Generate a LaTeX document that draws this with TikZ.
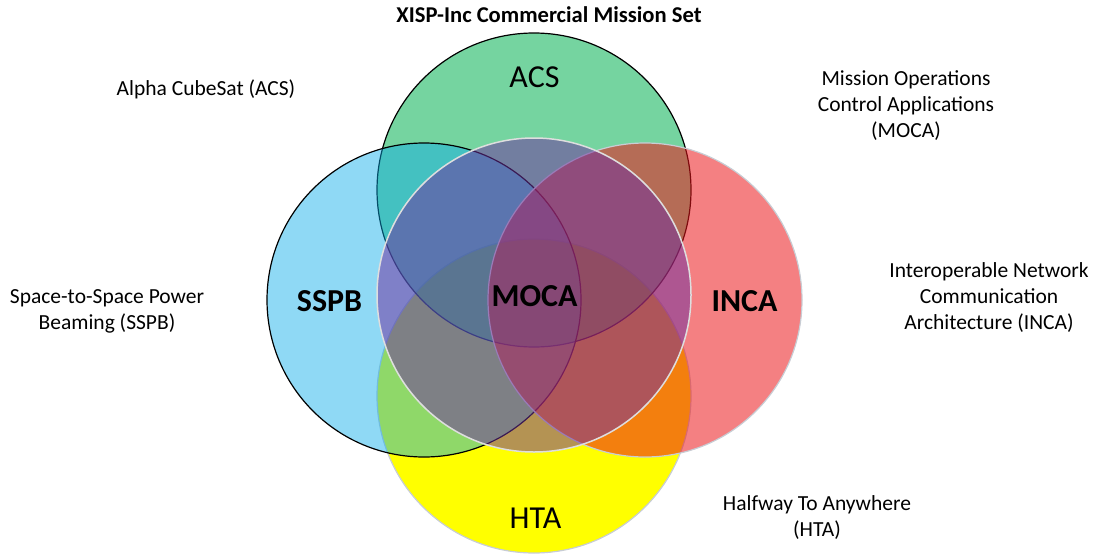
\documentclass[tikz,border=0pt]{standalone}
\usepackage{fontspec}
\setmainfont{Carlito}
\begin{document}
\begin{tikzpicture}[x=1pt,y=-1pt]
\definecolor{acsgreen}{RGB}{0,176,80}
\definecolor{sspbblue}{RGB}{9,171,233}
\definecolor{incared}{RGB}{234,22,26}
\definecolor{mocapurple}{RGB}{112,48,160}
\definecolor{htayellow}{RGB}{255,255,0}
\definecolor{lightedge}{RGB}{200,205,212}
\definecolor{mocaedge}{RGB}{222,222,222}
\tikzset{
  venn/.style={circle, minimum size=314pt, inner sep=0pt, outer sep=0pt, line width=1.2pt},
  biglabel/.style={font=\fontsize{32}{36}\selectfont, inner sep=0pt},
  boldlabel/.style={font=\fontsize{32}{36}\selectfont\bfseries, inner sep=0pt},
  sidelabel/.style={font=\fontsize{21.5}{26}\selectfont, align=center, inner sep=0pt},
  titlelabel/.style={font=\fontsize{22.6}{27}\selectfont\bfseries, inner sep=0pt}
}
\useasboundingbox (0,0) rectangle (1097,554);
% circles, back to front
\node[venn, fill=htayellow, draw=lightedge] (hta) at (534,396) {};
\node[venn, fill=acsgreen, fill opacity=0.54, draw=black, draw opacity=1] (acs) at (534,190) {};
\node[venn, fill=sspbblue, fill opacity=0.455, draw=black, draw opacity=1] (sspb) at (424,300) {};
\node[venn, fill=incared, fill opacity=0.545, draw=lightedge, draw opacity=1] (inca) at (645,300) {};
\node[venn, fill=mocapurple, fill opacity=0.52, draw=mocaedge, draw opacity=1, line width=1.5pt] (moca) at (534,295) {};
% circle labels
\node[biglabel] (acsL) at (534.5,77) {ACS};
\node[biglabel] (htaL) at (535.5,518) {HTA};
\node[boldlabel] (sspbL) at (329.5,301) {SSPB};
\node[boldlabel] (mocaL) at (534.5,296) {MOCA};
\node[boldlabel] (incaL) at (744.5,301) {INCA};
% title
\node[titlelabel] (title) at (549,15) {XISP-Inc Commercial Mission Set};
% side labels
\node[sidelabel] (acsT) at (206,89) {Alpha CubeSat (ACS)};
\node[sidelabel] (mocaT) at (906,106) {Mission Operations\\Control Applications\\(MOCA)};
\node[sidelabel] (incaT) at (989,298) {Interoperable Network\\Communication\\Architecture (INCA)};
\node[sidelabel] (sspbT) at (107,311) {Space-to-Space Power\\Beaming (SSPB)};
\node[sidelabel] (htaT) at (817,518) {Halfway To Anywhere\\(HTA)};
\end{tikzpicture}
\end{document}
